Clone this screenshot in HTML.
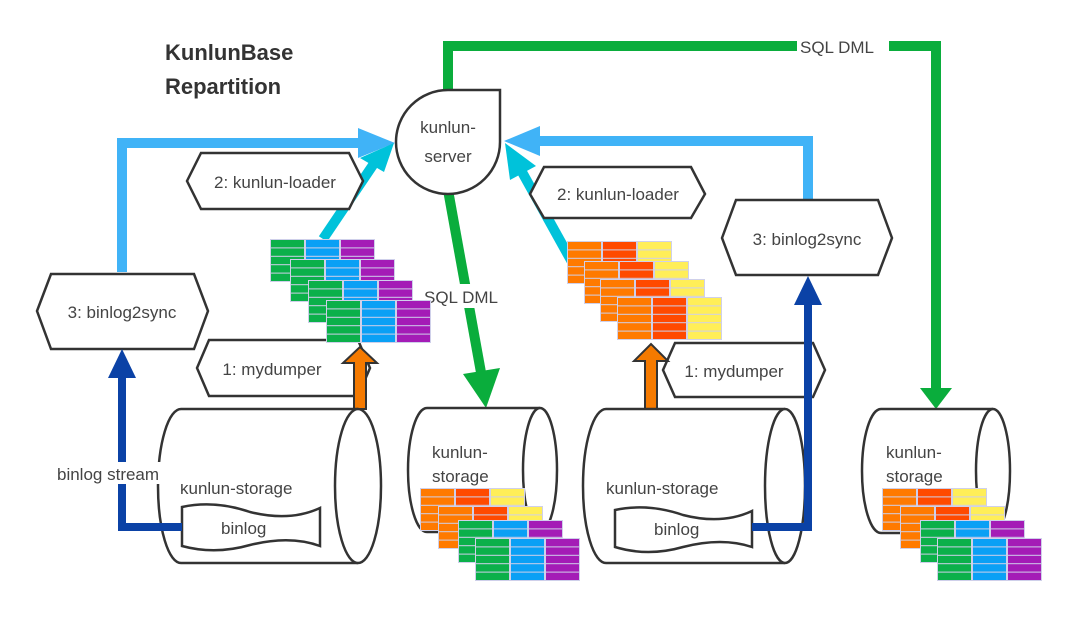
<!DOCTYPE html>
<html><head><meta charset="utf-8"><style>
html,body{margin:0;padding:0;background:#fff;}
svg{display:block;}
text{font-family:"Liberation Sans",sans-serif;fill:#444;font-size:17px;}
</style></head><body>
<svg width="1080" height="618" viewBox="0 0 1080 618" xmlns="http://www.w3.org/2000/svg">
<defs>
<g id="cg">
<rect x="0" y="0" width="105" height="43" fill="#cfd0ea"/>
<g fill="#0bb04a"><rect x="1" y="1" width="33" height="7.4"/><rect x="1" y="9.4" width="33" height="7.4"/><rect x="1" y="17.8" width="33" height="7.4"/><rect x="1" y="26.2" width="33" height="7.4"/><rect x="1" y="34.6" width="33" height="7.4"/></g>
<g fill="#0aa0f5"><rect x="36" y="1" width="33" height="7.4"/><rect x="36" y="9.4" width="33" height="7.4"/><rect x="36" y="17.8" width="33" height="7.4"/><rect x="36" y="26.2" width="33" height="7.4"/><rect x="36" y="34.6" width="33" height="7.4"/></g>
<g fill="#a41cb6"><rect x="71" y="1" width="33" height="7.4"/><rect x="71" y="9.4" width="33" height="7.4"/><rect x="71" y="17.8" width="33" height="7.4"/><rect x="71" y="26.2" width="33" height="7.4"/><rect x="71" y="34.6" width="33" height="7.4"/></g>
</g>
<g id="co">
<rect x="0" y="0" width="105" height="43" fill="#cfd0ea"/>
<g fill="#ff7a00"><rect x="1" y="1" width="33" height="7.4"/><rect x="1" y="9.4" width="33" height="7.4"/><rect x="1" y="17.8" width="33" height="7.4"/><rect x="1" y="26.2" width="33" height="7.4"/><rect x="1" y="34.6" width="33" height="7.4"/></g>
<g fill="#ff4a00"><rect x="36" y="1" width="33" height="7.4"/><rect x="36" y="9.4" width="33" height="7.4"/><rect x="36" y="17.8" width="33" height="7.4"/><rect x="36" y="26.2" width="33" height="7.4"/><rect x="36" y="34.6" width="33" height="7.4"/></g>
<g fill="#ffee58"><rect x="71" y="1" width="33" height="7.4"/><rect x="71" y="9.4" width="33" height="7.4"/><rect x="71" y="17.8" width="33" height="7.4"/><rect x="71" y="26.2" width="33" height="7.4"/><rect x="71" y="34.6" width="33" height="7.4"/></g>
</g>
</defs>

<text x="165" y="60" style="font-weight:bold;font-size:22px;fill:#333">KunlunBase</text>
<text x="165" y="94" style="font-weight:bold;font-size:22px;fill:#333">Repartition</text>

<polyline points="448,92 448,46 936,46 936,392" fill="none" stroke="#0aad3c" stroke-width="10"/>
<polygon points="920,388 952,388 936,409" fill="#0aad3c"/>
<rect x="797" y="34" width="92" height="24" fill="#fff"/>
<text x="800" y="53">SQL DML</text>

<line x1="448" y1="190" x2="482" y2="378" stroke="#0aad3c" stroke-width="10"/>
<polygon points="463,374 500,368 486,408" fill="#0aad3c"/>
<rect x="422" y="284" width="88" height="24" fill="#fff"/>
<text x="424" y="303">SQL DML</text>

<polyline points="122,272 122,143 365,143" fill="none" stroke="#40b3f7" stroke-width="10"/>
<polygon points="358,128 358,158 395,143" fill="#40b3f7"/>
<polyline points="808,202 808,141 535,141" fill="none" stroke="#40b3f7" stroke-width="10"/>
<polygon points="540,126 540,156 504,141" fill="#40b3f7"/>

<line x1="323" y1="239" x2="375" y2="162" stroke="#00c2da" stroke-width="10"/>
<polygon points="360,158 384,172 394,143" fill="#00c2da"/>
<line x1="572" y1="262" x2="522" y2="172" stroke="#00c2da" stroke-width="10"/>
<polygon points="510,180 536,166 505,143" fill="#00c2da"/>

<path d="M448,90 L500,90 L500,142 A52,52 0 1,1 448,90 Z" fill="#fff" stroke="#333" stroke-width="2.5"/>
<text x="448" y="133" text-anchor="middle">kunlun-</text>
<text x="448" y="162" text-anchor="middle">server</text>

<path d="M187,181 L201,153 L349,153 L363,181 L349,209 L201,209 Z" fill="#fff" stroke="#333" stroke-width="2.5"/>
<text x="275" y="188" text-anchor="middle">2: kunlun-loader</text>
<path d="M530,194 L544,167 L691,167 L705,194 L691,218 L544,218 Z" fill="#fff" stroke="#333" stroke-width="2.5"/>
<text x="618" y="200" text-anchor="middle">2: kunlun-loader</text>
<path d="M37,311 L51,274 L194,274 L208,311 L194,349 L51,349 Z" fill="#fff" stroke="#333" stroke-width="2.5"/>
<text x="122" y="318" text-anchor="middle">3: binlog2sync</text>
<path d="M722,238 L736,200 L878,200 L892,238 L878,275 L736,275 Z" fill="#fff" stroke="#333" stroke-width="2.5"/>
<text x="807" y="245" text-anchor="middle">3: binlog2sync</text>
<path d="M197,368 L209,340 L358,340 L370,368 L358,396 L209,396 Z" fill="#fff" stroke="#333" stroke-width="2.5"/>
<text x="272" y="375" text-anchor="middle">1: mydumper</text>
<path d="M663,370 L675,343 L813,343 L825,370 L813,397 L675,397 Z" fill="#fff" stroke="#333" stroke-width="2.5"/>
<text x="734" y="377" text-anchor="middle">1: mydumper</text>

<use href="#cg" x="270" y="239"/>
<use href="#cg" x="290" y="259"/>
<use href="#cg" x="308" y="280"/>
<use href="#cg" x="326" y="300"/>
<use href="#co" x="567" y="241"/>
<use href="#co" x="584" y="261"/>
<use href="#co" x="600" y="279"/>
<use href="#co" x="617" y="297"/>

<polygon points="354,409 354,363 343,363 360,347 377,363 366,363 366,409" fill="#f57a00" stroke="#333" stroke-width="2"/>
<polygon points="645,409 645,361 634,361 651,344 668,361 657,361 657,409" fill="#f57a00" stroke="#333" stroke-width="2"/>

<path d="M358,409 L181,409 A23,77 0 0,0 181,563 L358,563" fill="#fff" stroke="#333" stroke-width="2.5"/>
<ellipse cx="358" cy="486" rx="23" ry="77" fill="#fff" stroke="#333" stroke-width="2.5"/>
<text x="180" y="494">kunlun-storage</text>
<path d="M182,507 Q215,500 250,512 Q290,522 320,508 L320,546 Q290,535 250,545 Q215,555 182,546 Z" fill="#fff" stroke="#333" stroke-width="2.5"/>
<text x="221" y="534">binlog</text>

<path d="M785,409 L606,409 A23,77 0 0,0 606,563 L785,563" fill="#fff" stroke="#333" stroke-width="2.5"/>
<ellipse cx="785" cy="486" rx="20" ry="77" fill="#fff" stroke="#333" stroke-width="2.5"/>
<text x="606" y="494">kunlun-storage</text>
<path d="M615,510 Q648,503 683,515 Q722,525 752,511 L752,547 Q722,537 683,547 Q648,557 615,547 Z" fill="#fff" stroke="#333" stroke-width="2.5"/>
<text x="654" y="535">binlog</text>

<polyline points="182,527 122,527 122,375" fill="none" stroke="#0b42a6" stroke-width="8"/>
<polygon points="108,378 136,378 122,349" fill="#0b42a6"/>
<rect x="56" y="462" width="134" height="22" fill="#fff"/>
<text x="57" y="480">binlog stream</text>
<polyline points="752,527 808,527 808,302" fill="none" stroke="#0b42a6" stroke-width="8"/>
<polygon points="794,305 822,305 808,276" fill="#0b42a6"/>

<path d="M540,408 L427,408 A19,62 0 0,0 427,532 L540,532" fill="#fff" stroke="#333" stroke-width="2.5"/>
<ellipse cx="540" cy="470" rx="17" ry="62" fill="#fff" stroke="#333" stroke-width="2.5"/>
<text x="432" y="458">kunlun-</text>
<text x="432" y="482">storage</text>
<use href="#co" x="420" y="488"/>
<use href="#co" x="438" y="506"/>
<use href="#cg" x="458" y="520"/>
<use href="#cg" x="475" y="538"/>

<path d="M993,409 L881,409 A19,62 0 0,0 881,533 L993,533" fill="#fff" stroke="#333" stroke-width="2.5"/>
<ellipse cx="993" cy="471" rx="17" ry="62" fill="#fff" stroke="#333" stroke-width="2.5"/>
<text x="886" y="458">kunlun-</text>
<text x="886" y="482">storage</text>
<use href="#co" x="882" y="488"/>
<use href="#co" x="900" y="506"/>
<use href="#cg" x="920" y="520"/>
<use href="#cg" x="937" y="538"/>
</svg>
</body></html>
